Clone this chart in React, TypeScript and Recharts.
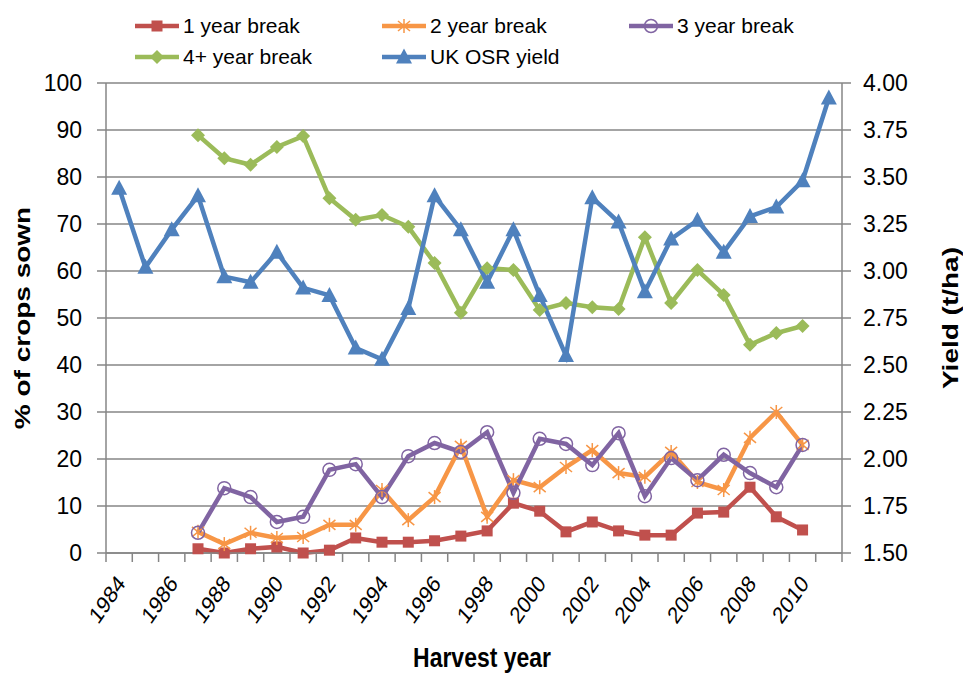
import { ComposedChart, Line, XAxis, YAxis, CartesianGrid } from "recharts";

// harvest years on the category axis
const years = [
  1984, 1985, 1986, 1987, 1988, 1989, 1990, 1991, 1992, 1993, 1994, 1995, 1996, 1997,
  1998, 1999, 2000, 2001, 2002, 2003, 2004, 2005, 2006, 2007, 2008, 2009, 2010, 2011,
];

// % of crops sown, by length of break (1984-1986 and 2011 not surveyed)
const oneYearBreak = [
  null, null, null, 0.9, 0, 0.9, 1.3, 0, 0.6, 3.2, 2.3, 2.3, 2.6, 3.6,
  4.7, 10.6, 8.9, 4.5, 6.6, 4.7, 3.8, 3.8, 8.5, 8.7, 14.0, 7.7, 4.9, null,
];
const twoYearBreak = [
  null, null, null, 4.5, 1.9, 4.3, 3.2, 3.4, 6.0, 6.0, 13.4, 7.0, 11.9, 22.8,
  7.7, 15.5, 14.0, 18.3, 21.9, 17.0, 16.2, 21.5, 15.1, 13.4, 24.5, 30.0, 23.0, null,
];
const threeYearBreak = [
  null, null, null, 4.3, 13.8, 11.9, 6.6, 7.7, 17.7, 18.9, 11.9, 20.6, 23.4, 21.5,
  25.7, 12.8, 24.3, 23.2, 18.7, 25.5, 12.1, 20.2, 15.5, 20.9, 17.0, 14.0, 23.0, null,
];
const fourPlusBreak = [
  null, null, null, 88.9, 84.0, 82.6, 86.4, 88.7, 75.5, 70.9, 71.9, 69.4, 61.7, 51.1,
  60.6, 60.2, 51.7, 53.2, 52.3, 51.9, 67.2, 53.2, 60.2, 54.9, 44.3, 46.8, 48.3, null,
];
// UK oilseed rape yield, t/ha
const osrYield = [
  3.44, 3.02, 3.22, 3.4, 2.97, 2.94, 3.1, 2.91, 2.87, 2.59, 2.53, 2.8, 3.4, 3.22,
  2.94, 3.22, 2.87, 2.55, 3.39, 3.26, 2.89, 3.17, 3.27, 3.1, 3.29, 3.34, 3.48, 3.92,
];

const leftTicks = [0, 10, 20, 30, 40, 50, 60, 70, 80, 90, 100];
const rightTicks = [1.5, 1.75, 2, 2.25, 2.5, 2.75, 3, 3.25, 3.5, 3.75, 4];

const data = years.map((year, i) => ({
  year,
  one: oneYearBreak[i],
  two: twoYearBreak[i],
  three: threeYearBreak[i],
  four: fourPlusBreak[i],
  osr: osrYield[i],
}));

const WIDTH = 963;
const HEIGHT = 673;
const LEFT_W = 106;
const RIGHT_W = 121;
const X_H = 120;
const STEP = (WIDTH - LEFT_W - RIGHT_W) / years.length;
const FONT = "'Liberation Sans', Arial, sans-serif";
const GRID = "#868686";
// the source picture is a little squeezed sideways
const SQUEEZE = 0.82;

// Excel puts category tick marks between the categories
const boundaries = [...years.map((y) => y - 0.5), years[years.length - 1] + 0.5];

type MarkerKind = "square" | "star" | "circle" | "diamond" | "triangle";

function Marker({ kind, cx, cy, color }: { kind: MarkerKind; cx: number; cy: number; color: string }) {
  switch (kind) {
    case "square":
      return <rect x={cx - 5.5} y={cy - 5.5} width={11} height={11} fill={color} />;
    case "star":
      return (
        <g stroke={color} strokeWidth={1.5}>
          <line x1={cx} y1={cy - 7} x2={cx} y2={cy + 7} />
          <line x1={cx - 6} y1={cy - 5} x2={cx + 6} y2={cy + 5} />
          <line x1={cx - 6} y1={cy + 5} x2={cx + 6} y2={cy - 5} />
        </g>
      );
    case "circle":
      return <circle cx={cx} cy={cy} r={6.5} fill="none" stroke={color} strokeWidth={1.5} />;
    case "diamond":
      return (
        <polygon
          points={`${cx},${cy - 7} ${cx + 7},${cy} ${cx},${cy + 7} ${cx - 7},${cy}`}
          fill={color}
        />
      );
    default:
      return (
        <polygon
          points={`${cx},${cy - 8.5} ${cx + 8},${cy + 6.5} ${cx - 8},${cy + 6.5}`}
          fill={color}
        />
      );
  }
}

const series: { key: string; name: string; color: string; marker: MarkerKind; axis: string }[] = [
  { key: "one", name: "1 year break", color: "#C0504D", marker: "square", axis: "left" },
  { key: "two", name: "2 year break", color: "#F79646", marker: "star", axis: "left" },
  { key: "three", name: "3 year break", color: "#8064A2", marker: "circle", axis: "left" },
  { key: "four", name: "4+ year break", color: "#9BBB59", marker: "diamond", axis: "left" },
  { key: "osr", name: "UK OSR yield", color: "#4F81BD", marker: "triangle", axis: "right" },
];

// legend rows as laid out in the original
const legendRows = [
  ["one", "two", "three"],
  ["four", "osr"],
];

function Legend() {
  return (
    <div style={{ position: "absolute", left: 135, top: 10, fontFamily: FONT, fontSize: 21 }}>
      {legendRows.map((row, r) => (
        <div key={r} style={{ display: "flex", height: 31, alignItems: "center" }}>
          {row.map((k) => {
            const s = series.find((x) => x.key === k)!;
            return (
              <div key={k} style={{ display: "flex", alignItems: "center", width: 247 }}>
                <svg width={44} height={20} style={{ marginRight: 4 }}>
                  <line x1={0} y1={10} x2={44} y2={10} stroke={s.color} strokeWidth={4.5} />
                  <Marker kind={s.marker} cx={22} cy={10} color={s.color} />
                </svg>
                <span>{s.name}</span>
              </div>
            );
          })}
        </div>
      ))}
    </div>
  );
}

function XTick(props: any) {
  const { x, y, payload } = props;
  const year = payload.value + 0.5;
  if (year % 2 !== 0 || year > years[years.length - 1]) return <g />;
  const tx = x + STEP / 2 + 2;
  const ty = y + 15;
  return (
    <text
      x={0}
      y={0}
      textAnchor="end"
      dominantBaseline="central"
      transform={`translate(${tx} ${ty}) scale(${SQUEEZE} 1) rotate(-50)`}
      fontSize={24}
      fontFamily={FONT}
      fill="#000"
    >
      {year}
    </text>
  );
}

function LeftTick(props: any) {
  return (
    <text
      x={LEFT_W - 24}
      y={props.y}
      textAnchor="end"
      dominantBaseline="central"
      fontSize={23}
      fontFamily={FONT}
      fill="#000"
    >
      {props.payload.value}
    </text>
  );
}

function RightTick(props: any) {
  return (
    <text
      x={WIDTH - RIGHT_W + 21}
      y={props.y}
      textAnchor="start"
      dominantBaseline="central"
      fontSize={23}
      fontFamily={FONT}
      fill="#000"
    >
      {Number(props.payload.value).toFixed(2)}
    </text>
  );
}

function VerticalTitle({ cx, cy, text }: { cx: number; cy: number; text: string }) {
  return (
    <text
      x={0}
      y={0}
      textAnchor="middle"
      dominantBaseline="central"
      transform={`translate(${cx} ${cy}) scale(${SQUEEZE} 1) rotate(-90)`}
      fontSize={28}
      fontWeight="bold"
      fontFamily={FONT}
    >
      {text}
    </text>
  );
}

export default function App() {
  return (
    <div style={{ position: "absolute", left: 0, top: 0, width: WIDTH, height: HEIGHT, background: "#fff" }}>
      <ComposedChart
        width={WIDTH}
        height={HEIGHT}
        data={data}
        margin={{ top: 83, right: 0, bottom: 0, left: 0 }}
        style={{ fontFamily: FONT }}
      >
        <CartesianGrid yAxisId="left" vertical={false} stroke={GRID} strokeWidth={1.5} />
        <XAxis
          dataKey="year"
          type="number"
          domain={[boundaries[0], boundaries[boundaries.length - 1]]}
          ticks={boundaries}
          interval={0}
          height={X_H}
          tickSize={9}
          axisLine={{ stroke: GRID, strokeWidth: 1.5 }}
          tickLine={{ stroke: GRID, strokeWidth: 1.5 }}
          tick={XTick}
          label={(p: any) => (
            <text
              x={0}
              y={0}
              textAnchor="middle"
              transform={`translate(${p.viewBox.x + p.viewBox.width / 2 + 8} ${p.viewBox.y + 114}) scale(${SQUEEZE} 1)`}
              fontSize={28}
              fontWeight="bold"
              fontFamily={FONT}
            >
              Harvest year
            </text>
          )}
        />
        <YAxis
          yAxisId="left"
          domain={[0, 100]}
          ticks={leftTicks}
          width={LEFT_W}
          tickSize={9}
          axisLine={{ stroke: GRID, strokeWidth: 1.5 }}
          tickLine={{ stroke: GRID, strokeWidth: 1.5 }}
          tick={LeftTick}
          label={(p: any) => (
            <VerticalTitle
              cx={p.viewBox.x + 22}
              cy={p.viewBox.y + p.viewBox.height / 2}
              text="% of crops sown"
            />
          )}
        />
        <YAxis
          yAxisId="right"
          orientation="right"
          domain={[1.5, 4]}
          ticks={rightTicks}
          width={RIGHT_W}
          tickSize={9}
          axisLine={{ stroke: GRID, strokeWidth: 1.5 }}
          tickLine={{ stroke: GRID, strokeWidth: 1.5 }}
          tick={RightTick}
          label={(p: any) => (
            <VerticalTitle
              cx={p.viewBox.x + 108}
              cy={p.viewBox.y + p.viewBox.height / 2}
              text="Yield (t/ha)"
            />
          )}
        />
        {series.map((s) => (
          <Line
            key={s.key}
            yAxisId={s.axis}
            dataKey={s.key}
            name={s.name}
            stroke={s.color}
            strokeWidth={4.5}
            isAnimationActive={false}
            dot={(p: any) =>
              p.cy == null || p.value == null ? (
                <g key={p.key ?? p.index} />
              ) : (
                <g key={p.key ?? p.index}>
                  <Marker kind={s.marker} cx={p.cx} cy={p.cy} color={s.color} />
                </g>
              )
            }
            activeDot={false}
          />
        ))}
      </ComposedChart>
      <Legend />
    </div>
  );
}
